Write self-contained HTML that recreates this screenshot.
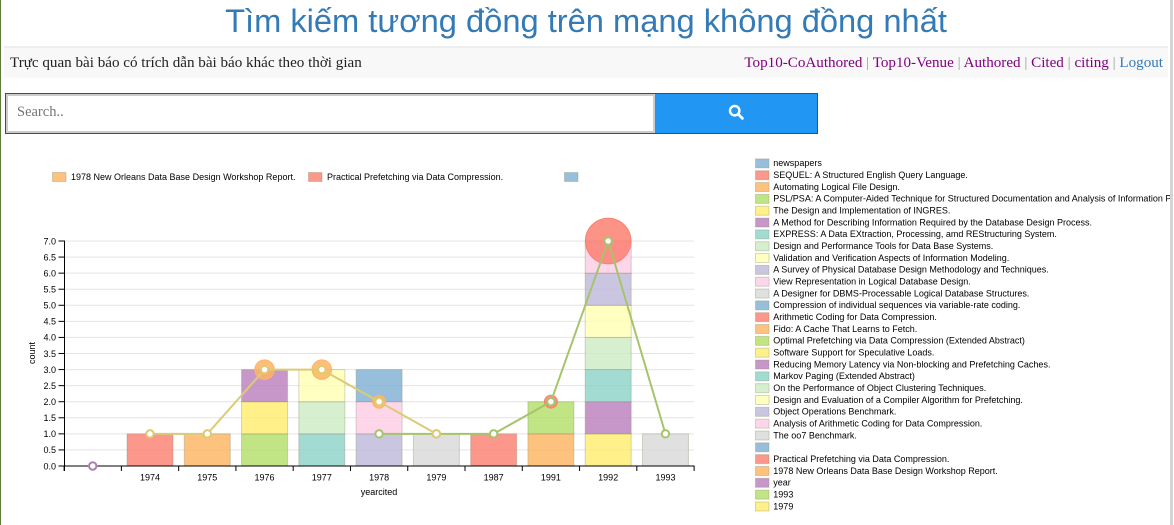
<!DOCTYPE html>
<html lang="vi">
<head>
<meta charset="utf-8">
<title>Tìm kiếm tương đồng trên mạng không đồng nhất</title>
<style>
html,body{margin:0;padding:0;background:#fff;width:1174px;height:525px;overflow:hidden}
body{position:relative;font-family:"Liberation Serif","Noto Serif CJK SC",serif}
#left-strip{position:absolute;left:0;top:0;width:1px;height:525px;background:#5f7a3a}
#scrollbar{position:absolute;left:1170px;top:0;width:3px;height:525px;background:#d4d4d4}
#page-title{position:absolute;left:0;top:1px;width:1172px;text-align:center;margin:0;font:400 32.65px/40px "Liberation Sans","Noto Sans CJK SC",sans-serif;color:#337ab7;white-space:nowrap}
#nav{position:absolute;left:4px;top:46px;width:1164px;height:32px;background:#f8f8f8;border-top:2px solid #eee;box-sizing:border-box}
#nav-caption{position:absolute;left:6px;top:5px;font-size:15.1px;line-height:20px;color:#222;white-space:nowrap}
#nav-links{position:absolute;right:5px;top:5px;font-size:15.1px;line-height:20px;color:#999;white-space:nowrap}
#nav-links a{color:#800080;text-decoration:none}
#nav-links a.logout{color:#337ab7}
#search-form{position:absolute;left:5px;top:93px;width:813px;height:41px;border:1px solid #1d6a1d;box-sizing:border-box}
#search-input{position:absolute;left:0;top:0;width:649px;height:39px;border:2px solid #ccc;box-sizing:border-box;background:#fff;font:14.5px "Liberation Serif",serif;padding:0 9px 3px;outline:0}
#search-input::placeholder{color:#757575;opacity:1}
#search-button{position:absolute;left:648px;top:0;width:163px;height:39px;background:#2196f3;border:0;border-left:1px solid #ccc;padding:0;box-sizing:border-box}
#search-icon{position:absolute;left:73px;top:10px}
#chart{position:absolute;left:0;top:0;font-family:"Liberation Sans",sans-serif}
</style>
</head>
<body>
<div id="left-strip"></div>
<h1 id="page-title">Tìm kiếm tương đồng trên mạng không đồng nhất</h1>
<div id="nav">
  <span id="nav-caption">Trực quan bài báo có trích dẫn bài báo khác theo thời gian</span>
  <span id="nav-links"><a href="#">Top10-CoAuthored</a> | <a href="#">Top10-Venue</a> | <a href="#">Authored</a> | <a href="#">Cited</a> | <a href="#">citing</a> | <a href="#" class="logout">Logout</a></span>
</div>
<div id="search-form">
  <input id="search-input" type="text" placeholder="Search..">
  <button id="search-button" type="button">
    <svg id="search-icon" width="16" height="16" viewBox="0 0 16 16"><circle cx="6.7" cy="6.7" r="4.7" fill="none" stroke="#fff" stroke-width="2.4"/><line x1="10.3" y1="10.3" x2="14.4" y2="14.4" stroke="#fff" stroke-width="2.8" stroke-linecap="round"/></svg>
  </button>
</div>
<svg id="chart" width="1170" height="525" viewBox="0 0 1170 525"></svg>
<div id="scrollbar"></div>
<script>
const categories = ["", "1974", "1975", "1976", "1977", "1978", "1979", "1987", "1991", "1992", "1993"];
const yTicks = [0, 0.5, 1, 1.5, 2, 2.5, 3, 3.5, 4, 4.5, 5, 5.5, 6, 6.5, 7];
const paperTitles = ["newspapers", "SEQUEL: A Structured English Query Language.", "Automating Logical File Design.", "PSL/PSA: A Computer-Aided Technique for Structured Documentation and Analysis of Information Processing Systems.", "The Design and Implementation of INGRES.", "A Method for Describing Information Required by the Database Design Process.", "EXPRESS: A Data EXtraction, Processing, amd REStructuring System.", "Design and Performance Tools for Data Base Systems.", "Validation and Verification Aspects of Information Modeling.", "A Survey of Physical Database Design Methodology and Techniques.", "View Representation in Logical Database Design.", "A Designer for DBMS-Processable Logical Database Structures.", "Compression of individual sequences via variable-rate coding.", "Arithmetic Coding for Data Compression.", "Fido: A Cache That Learns to Fetch.", "Optimal Prefetching via Data Compression (Extended Abstract)", "Software Support for Speculative Loads.", "Reducing Memory Latency via Non-blocking and Prefetching Caches.", "Markov Paging (Extended Abstract)", "On the Performance of Object Clustering Techniques.", "Design and Evaluation of a Compiler Algorithm for Prefetching.", "Object Operations Benchmark.", "Analysis of Arithmetic Coding for Data Compression.", "The oo7 Benchmark.", ""];
const paperYears = [null, "1974", "1975", "1976", "1976", "1976", "1977", "1977", "1977", "1978", "1978", "1979", "1978", "1987", "1991", "1991", "1992", "1992", "1992", "1992", "1992", "1992", "1992", "1993", null];
const paperCounts = [0, 1, 1, 1, 1, 1, 1, 1, 1, 1, 1, 1, 1, 1, 1, 1, 1, 1, 1, 1, 1, 1, 1, 1, 0];
const palette = ["#80b1d3", "#fb8072", "#fdb462", "#b3de69", "#ffed6f", "#bc80bd", "#8dd3c7", "#ccebc5", "#ffffb3", "#bebada", "#fccde5", "#d9d9d9"];
const bubbleReportYears = ["1976", "1977", "1978"];
const bubbleReportValues = [3, 3, 2];
const bubblePracticalYears = ["1991", "1992"];
const bubblePracticalValues = [2, 7];
const lineYearCats = [""];
const lineYearValues = [0];
const line1993Cats = ["1978", "1979", "1987", "1991", "1992", "1993"];
const line1993Values = [1, 1, 1, 2, 7, 1];
const line1979Cats = ["1974", "1975", "1976", "1977", "1978", "1979"];
const line1979Values = [1, 1, 3, 3, 2, 1];
const topLegendLabels = ["1978 New Orleans Data Base Design Workshop Report.", "Practical Prefetching via Data Compression.", ""];
const extraLegendLabels = ["Practical Prefetching via Data Compression.", "1978 New Orleans Data Base Design Workshop Report.", "year", "1993", "1979"];

const svg = document.getElementById("chart");
const NS = "http://www.w3.org/2000/svg";
const plotLeft = 64.1, plotRight = 694.1, plotBottom = 466, plotTop = 241;
const yMax = 7;
const step = (plotRight - plotLeft) / categories.length;
function xBand(cat) { return plotLeft + categories.indexOf(cat) * step; }
function xCenter(cat) { return xBand(cat) + step / 2; }
function yScale(v) { return plotBottom - (v / yMax) * (plotBottom - plotTop); }
function rScale(v) { return v * 3.25; }
function mk(tag, attrs, text) {
  const el = document.createElementNS(NS, tag);
  for (const k in attrs) el.setAttribute(k, attrs[k]);
  if (text !== undefined) el.textContent = text;
  svg.appendChild(el);
  return el;
}

// grid
yTicks.forEach(function (t) {
  const line = mk("line", {x1: plotLeft, x2: plotRight, y1: yScale(t), y2: yScale(t), stroke: "#e4e4e4", "stroke-width": 1});
  
  
});

// stacked bars
const barWidth = 46;
const stackTops = {};
paperTitles.forEach(function (title, i) {
  const cat = paperYears[i];
  if (!cat || !paperCounts[i]) return;
  const base = stackTops[cat] || 0;
  const top = base + paperCounts[i];
  stackTops[cat] = top;
  const c = palette[i % palette.length];
  const bar = mk("rect", {x: xCenter(cat) - barWidth / 2, y: yScale(top), width: barWidth, height: yScale(base) - yScale(top), fill: c, "fill-opacity": 0.82, stroke: "#8a8a6a", "stroke-opacity": 0.34, "stroke-width": 1});
  
  
});

// axes
const axisX = plotLeft + 0.4;
const yAxis = mk("path", {d: "M" + (axisX - 6) + "," + plotTop + "H" + axisX + "V" + plotBottom + "H" + (axisX - 6), fill: "none", stroke: "#000", "stroke-width": 1});


yTicks.forEach(function (t) {
  const tick = mk("line", {x1: axisX - 6, x2: axisX, y1: yScale(t), y2: yScale(t), stroke: "#000"});
  
  
  const label = mk("text", {x: axisX - 8.5, y: yScale(t) + 3.3, "text-anchor": "end", "font-size": 9, fill: "#000"}, t.toFixed(1));
  
  
});
const xAxis = mk("path", {d: "M" + axisX + "," + (plotBottom + 5) + "V" + plotBottom + "H" + plotRight + "V" + (plotBottom + 5), fill: "none", stroke: "#000", "stroke-width": 1});


categories.forEach(function (cat, i) {
  const tick = mk("line", {x1: plotLeft + i * step, x2: plotLeft + i * step, y1: plotBottom, y2: plotBottom + 5, stroke: "#000"});
  
  
  if (cat) {
    const label = mk("text", {x: xCenter(cat), y: plotBottom + 14.5, "text-anchor": "middle", "font-size": 9, fill: "#000"}, cat);
    
    
  }
});
const xTitle = mk("text", {x: 379, y: 495, "text-anchor": "middle", "font-size": 9, fill: "#000"}, "yearcited");


const yTitle = mk("text", {x: 0, y: 0, transform: "translate(35,353) rotate(-90)", "text-anchor": "middle", "font-size": 9, fill: "#000"}, "count");



// bubbles
function drawBubbles(cats, vals, color, name) {
  cats.forEach(function (cat, i) {
    const b = mk("circle", {cx: xCenter(cat), cy: yScale(vals[i]), r: rScale(vals[i]), fill: color, "fill-opacity": 0.85, stroke: color, "stroke-width": 1});
    
    
  });
}
drawBubbles(bubbleReportYears, bubbleReportValues, "#fdb462", "bubble-report");
drawBubbles(bubblePracticalYears, bubblePracticalValues, "#fb8072", "bubble-practical");

// lines
function drawLine(cats, vals, color, name) {
  const d = cats.map(function (cat, i) { return (i ? "L" : "M") + xCenter(cat) + "," + yScale(vals[i]); }).join("");
  const path = mk("path", {d: d, fill: "none", stroke: color, "stroke-width": 2});
  
  
  cats.forEach(function (cat, i) {
    const p = mk("circle", {cx: xCenter(cat), cy: yScale(vals[i]), r: 3.7, fill: "#fff", stroke: color, "stroke-width": 2});
    
    
  });
}
drawLine(lineYearCats, lineYearValues, "#ae7fb0", "year");
drawLine(line1993Cats, line1993Values, "#a6c46c", "series-1993");
drawLine(line1979Cats, line1979Values, "#dccb74", "series-1979");

// legends
function swatch(x, y, color, name) {
  const s = mk("rect", {x: x, y: y, width: 13.5, height: 9, fill: color, "fill-opacity": 0.82, stroke: "#8a8a6a", "stroke-opacity": 0.34, "stroke-width": 1});
  
  
}
const topSwatchX = [52.5, 308.5, 564.5];
const topColors = ["#fdb462", "#fb8072", "#80b1d3"];
topLegendLabels.forEach(function (label, i) {
  swatch(topSwatchX[i], 172.5, topColors[i], 'top-legend-swatch');
  if (label) {
    const t = mk("text", {x: topSwatchX[i] + 18.5, y: 180, "font-size": 9, fill: "#000"}, label);
    
    
  }
});
const extraColors = ["#fb8072", "#fdb462", "#bc80bd", "#b3de69", "#ffed6f"];
const rowPitch = 11.83;
function legendRow(index, label, color) {
  const y = 163.2 + index * rowPitch;
  swatch(755.5, y - 4.3, color, 'side-legend-swatch');
  if (label) {
    const t = mk("text", {x: 773.3, y: y + 3, "font-size": 9, fill: "#000"}, label);
    
    
  }
}
paperTitles.forEach(function (label, i) { legendRow(i, label, palette[i % palette.length]); });
extraLegendLabels.forEach(function (label, i) { legendRow(paperTitles.length + i, label, extraColors[i]); });
</script>
</body>
</html>
